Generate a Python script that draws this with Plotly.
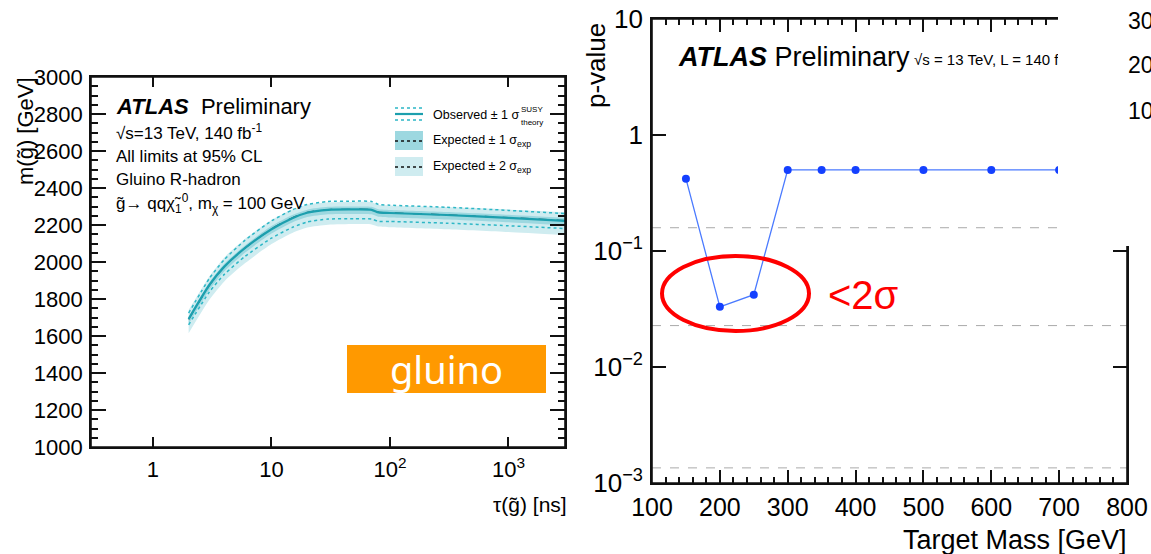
import plotly.graph_objects as go

W, H = 1151, 554
def px(x): return x / W
def py(y): return 1 - y / H

FONT = "Liberation Sans, Arial, sans-serif"

# ---------------- Left panel data (gluino R-hadron limit) ----------------
tau = [2, 3, 4, 6, 10, 15, 20, 30, 50, 70, 80, 100, 300, 1000, 3000]
obs = [1692, 1877, 1975, 2076, 2177, 2237, 2266, 2282, 2284, 2282, 2268, 2265, 2254, 2238, 2222]
obs_up = [1724, 1912, 2013, 2118, 2222, 2282, 2311, 2327, 2329, 2327, 2311, 2307, 2296, 2279, 2262]
obs_dn = [1660, 1839, 1933, 2031, 2129, 2187, 2216, 2232, 2234, 2232, 2220, 2219, 2210, 2196, 2181]
exp_mid = [1690, 1875, 1975, 2076, 2179, 2239, 2268, 2283, 2285, 2283, 2270, 2266, 2255, 2240, 2224]
exp1_up = [1705, 1890, 1990, 2091, 2194, 2254, 2283, 2298, 2300, 2298, 2285, 2281, 2270, 2255, 2239]
exp1_dn = [1665, 1850, 1950, 2051, 2154, 2214, 2243, 2258, 2260, 2258, 2245, 2241, 2230, 2215, 2199]
exp2_up = [1740, 1923, 2025, 2126, 2227, 2284, 2310, 2323, 2325, 2323, 2310, 2306, 2297, 2284, 2269]
exp2_dn = [1615, 1797, 1895, 1994, 2097, 2157, 2186, 2201, 2205, 2203, 2192, 2188, 2177, 2162, 2146]
left_xticks = [1, 10, 100, 1000]
left_xticktext = ["1", "10", "10<sup>2</sup>", "10<sup>3</sup>"]

# ---------------- Right panel data (p-value scan) ----------------
mass = [150, 200, 250, 300, 350, 400, 500, 600, 700]
pval = [0.42, 0.033, 0.042, 0.5, 0.5, 0.5, 0.5, 0.5, 0.5]
sigma_p = [0.1587, 0.02275, 0.00135]
sigma_lbl = ["", "2σ", "3σ"]
right_yticks = [0.001, 0.01, 0.1, 1, 10]
right_yticktext = ["10<sup>−3</sup>", "10<sup>−2</sup>", "10<sup>−1</sup>", "1", "10"]

# minor tick positions for the log axes (2..9 within each decade)
left_minor = [k * 10 ** e for e in range(-1, 4) for k in range(2, 10)]
right_minor = [k * 10 ** e for e in range(-3, 1) for k in range(2, 10)]

C_OBS = "#1c9fae"
C_DOT = "#2db7c6"
C_B1 = "#9dd8e0"
C_B2 = "#cfecf0"
SM = 0.6

def sline(**kw):
    d = dict(shape="spline", smoothing=SM)
    d.update(kw)
    return d

fig = go.Figure()
fig.add_trace(go.Scatter(x=tau, y=exp2_dn, mode="lines", line=sline(width=0), showlegend=False, xaxis="x", yaxis="y"))
fig.add_trace(go.Scatter(x=tau, y=exp2_up, mode="lines", line=sline(width=0), fill="tonexty", fillcolor=C_B2,
                         showlegend=False, xaxis="x", yaxis="y"))
fig.add_trace(go.Scatter(x=tau, y=exp1_dn, mode="lines", line=sline(width=0), showlegend=False, xaxis="x", yaxis="y"))
fig.add_trace(go.Scatter(x=tau, y=exp1_up, mode="lines", line=sline(width=0), fill="tonexty", fillcolor=C_B1,
                         showlegend=False, xaxis="x", yaxis="y"))
fig.add_trace(go.Scatter(x=tau, y=exp_mid, mode="lines", line=sline(color="#1d4f55", width=1.3, dash="dash"),
                         showlegend=False, xaxis="x", yaxis="y"))
fig.add_trace(go.Scatter(x=tau, y=obs_up, mode="lines", line=sline(color=C_DOT, width=1.5, dash="dot"),
                         showlegend=False, xaxis="x", yaxis="y"))
fig.add_trace(go.Scatter(x=tau, y=obs_dn, mode="lines", line=sline(color=C_DOT, width=1.5, dash="dot"),
                         showlegend=False, xaxis="x", yaxis="y"))
fig.add_trace(go.Scatter(x=tau, y=obs, mode="lines", line=sline(color=C_OBS, width=2.2),
                         showlegend=False, xaxis="x", yaxis="y"))

fig.add_trace(go.Scatter(x=mass, y=pval, mode="lines+markers",
                         line=dict(color="#4a7aff", width=1.3),
                         marker=dict(color="#1440ff", size=8),
                         showlegend=False, xaxis="x2", yaxis="y2", cliponaxis=False))

LC = "#111111"
axcommon = dict(showline=True, linecolor=LC, linewidth=1.6, mirror="ticks", ticks="inside",
                tickcolor=LC, tickwidth=1.5, showgrid=False, zeroline=False, automargin=False,
                layer="above traces")

fig.update_layout(
    width=W, height=H, autosize=False,
    margin=dict(l=0, r=0, t=0, b=0),
    paper_bgcolor="white", plot_bgcolor="rgba(0,0,0,0)",
    showlegend=False,
    xaxis=dict(axcommon, domain=[px(91), px(565)], type="log", range=[-0.5229, 3.4771],
               tickvals=left_xticks, ticktext=left_xticktext, ticklen=10,
               tickfont=dict(family=FONT, size=22, color="#000"), ticklabelstandoff=2, anchor="y"),
    xaxis3=dict(axcommon, overlaying="x", anchor="y", side="bottom", type="log", range=[-0.5229, 3.4771],
                tickvals=left_minor, ticklen=5, showticklabels=False),
    yaxis=dict(axcommon, domain=[py(447), py(77)], range=[1000, 3000], dtick=200, ticklen=15,
               tickfont=dict(family=FONT, size=22, color="#000"), ticklabelstandoff=2,
               minor=dict(ticks="inside", ticklen=7, dtick=50, tickcolor=LC, tickwidth=1.5, showgrid=False),
               anchor="x"),
    xaxis2=dict(axcommon, domain=[px(652), px(1127)], range=[100, 800], dtick=100, ticklen=13,
                tickfont=dict(family=FONT, size=25, color="#000"), ticklabelstandoff=1,
                minor=dict(ticks="inside", ticklen=6, dtick=20, tickcolor=LC, tickwidth=1.5, showgrid=False),
                anchor="y2"),
    yaxis2=dict(axcommon, domain=[py(483), py(19)], type="log", range=[-3, 1],
                tickvals=right_yticks, ticktext=right_yticktext, ticklen=14,
                tickfont=dict(family=FONT, size=26, color="#000"), ticklabelstandoff=2, anchor="x2"),
    yaxis3=dict(axcommon, overlaying="y2", anchor="x2", side="left", type="log", range=[-3, 1],
                tickvals=right_minor, ticklen=8, showticklabels=False),
)

shapes = []
for p in sigma_p:
    shapes.append(dict(type="line", xref="x2 domain", yref="y2", x0=0, x1=1, y0=p, y1=p,
                       line=dict(color="#aaaaaa", width=1, dash="dash")))
shapes += [
    # plot frames
    dict(type="rect", xref="x domain", yref="y domain", x0=0, x1=1, y0=0, y1=1,
         line=dict(color=LC, width=1.6), fillcolor="rgba(0,0,0,0)", layer="above"),
    dict(type="rect", xref="x2 domain", yref="y2 domain", x0=0, x1=1, y0=0, y1=1,
         line=dict(color=LC, width=1.6), fillcolor="rgba(0,0,0,0)", layer="above"),
    # legend samples
    dict(type="rect", xref="paper", yref="paper", x0=px(395), x1=px(423), y0=py(150), y1=py(131),
         fillcolor=C_B1, line=dict(width=0)),
    dict(type="rect", xref="paper", yref="paper", x0=px(395), x1=px(423), y0=py(176), y1=py(157),
         fillcolor=C_B2, line=dict(width=0)),
    dict(type="line", xref="paper", yref="paper", x0=px(395), x1=px(423), y0=py(141), y1=py(141),
         line=dict(color="#111", width=1.5, dash="dot")),
    dict(type="line", xref="paper", yref="paper", x0=px(395), x1=px(423), y0=py(167), y1=py(167),
         line=dict(color="#111", width=1.5, dash="dot")),
    dict(type="line", xref="paper", yref="paper", x0=px(395), x1=px(423), y0=py(108), y1=py(108),
         line=dict(color=C_DOT, width=1.5, dash="dot")),
    dict(type="line", xref="paper", yref="paper", x0=px(395), x1=px(423), y0=py(120), y1=py(120),
         line=dict(color=C_DOT, width=1.5, dash="dot")),
    dict(type="line", xref="paper", yref="paper", x0=px(395), x1=px(423), y0=py(114), y1=py(114),
         line=dict(color=C_OBS, width=2.2)),
    dict(type="rect", xref="paper", yref="paper", x0=px(347), x1=px(546), y0=py(393), y1=py(345),
         fillcolor="#ff9900", line=dict(width=0), layer="above"),
    dict(type="circle", xref="paper", yref="paper", x0=px(662), x1=px(809), y0=py(331), y1=py(256),
         line=dict(color="#ff0000", width=4), fillcolor="rgba(0,0,0,0)", layer="above"),
]
fig.update_layout(shapes=shapes)

def ann(text, x, y, size, xanchor="left", yanchor="middle", color="#000", angle=0, family=FONT, **kw):
    return dict(text=text, x=px(x), y=py(y), xref="paper", yref="paper", showarrow=False,
                xanchor=xanchor, yanchor=yanchor, textangle=angle,
                font=dict(family=family, size=size, color=color), **kw)

anns = [
    ann("m(g̃) [GeV]", 25, 131, 22, xanchor="center", angle=-90),
    ann("τ(g̃) [ns]", 569, 504, 21, xanchor="right"),
    ann("<b><i>ATLAS</i></b>  Preliminary", 114, 106, 22),
    ann("√s=13 TeV, 140 fb<sup>-1</sup>", 114, 132, 17),
    ann("All limits at 95% CL", 114, 156, 17),
    ann("Gluino R-hadron", 114, 180, 17),
    ann("g̃→ qqχ̃<sub>1</sub><sup>0</sup>, m<sub>χ</sub> = 100 GeV", 114, 203, 17),
    ann("Observed ± 1 σ", 431, 115, 12.5),
    ann("SUSY", 519, 109, 8),
    ann("theory", 519, 122, 8),
    ann("Expected ± 1 σ<sub>exp</sub>", 431, 141, 12.5),
    ann("Expected ± 2 σ<sub>exp</sub>", 431, 167, 12.5),
    ann("gluino", 446.5, 369, 38, xanchor="center", color="white", family="Noto Sans, sans-serif"),
    ann("p-value", 596, 65, 26, xanchor="center", angle=-90),
    ann("Target Mass [GeV]", 1129, 540, 27, xanchor="right"),
    ann("<b><i>ATLAS</i></b> Preliminary", 676, 57, 27),
    ann("√s = 13 TeV, L = 140 fb<sup>-1</sup>", 912, 59, 15),
    ann("<2σ", 826, 295, 40, color="#ff0000"),
]
for p, lbl in zip(sigma_p, sigma_lbl):
    if lbl:
        anns.append(dict(text=lbl, x=px(1101), y=p, xref="paper", yref="y2", showarrow=False,
                         xanchor="center", yanchor="bottom", yshift=1,
                         font=dict(family=FONT, size=11, color="#999")))
anns.append(dict(text="", x=px(1058), y=py(0), xref="paper", yref="paper", showarrow=False,
                 xanchor="left", yanchor="top", width=W - 1058, height=246, bgcolor="white",
                 borderpad=0, borderwidth=0))
anns += [
    ann("30", 1126, 21, 23),
    ann("20", 1126, 65, 23),
    ann("10", 1126, 111, 23),
]
fig.update_layout(annotations=anns)

fig.write_html("out.html", config={"displayModeBar": False},
               post_script="document.body.style.margin='0px';")
